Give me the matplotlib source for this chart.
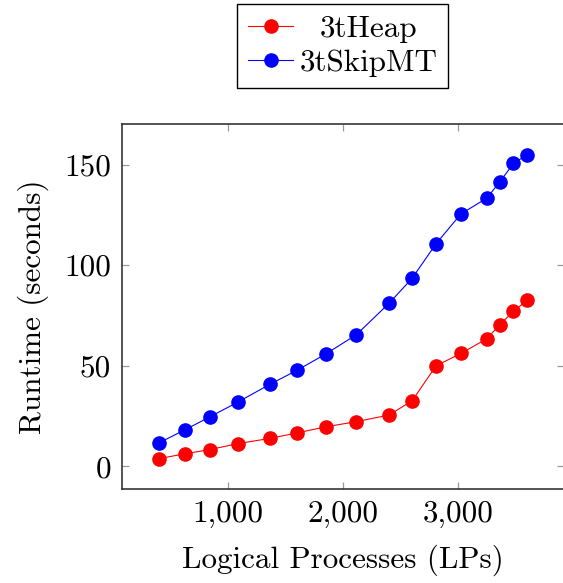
import matplotlib
matplotlib.use("Agg")
import matplotlib.pyplot as plt
from matplotlib.ticker import FuncFormatter
from matplotlib.transforms import Affine2D

# runtime vs number of logical processes
lps = [400, 625, 841, 1089, 1369, 1600, 1849, 2116, 2401, 2601, 2809, 3025, 3249, 3364, 3481, 3600]
heap = [3.8, 6.2, 8.3, 11.3, 13.9, 16.6, 19.6, 22.2, 25.5, 32.6, 50.0, 56.1, 63.4, 70.5, 77.0, 82.6]
skipmt = [11.6, 18.1, 24.5, 32.0, 40.9, 47.7, 55.8, 65.4, 81.1, 93.5, 110.7, 125.5, 133.3, 141.5, 150.6, 154.9]

xticks = [1000, 2000, 3000]
yticks = [0, 50, 100, 150]

plt.rcParams['font.family'] = ['cmr10', 'DejaVu Serif']
plt.rcParams['font.size'] = 22.4
plt.rcParams['axes.formatter.use_mathtext'] = True

fig = plt.figure(figsize=(5.63, 5.83), dpi=100)
ax = fig.add_axes([0.2167, 0.1612, 0.785, 0.6261])

ax.plot(lps, heap, color='#ff0000', marker='o', ms=9.5, lw=0.8, label='3tHeap')
ax.plot(lps, skipmt, color='#0000ff', marker='o', ms=9.5, lw=0.8, label='3tSkipMT')

ax.set_xlim(80, 3920)
ax.set_ylim(-11.3, 170.2)
ax.set_xticks(xticks)
ax.set_yticks(yticks)
ax.xaxis.set_major_formatter(FuncFormatter(lambda v, p: "{:,}".format(int(v))))
ax.yaxis.set_major_formatter(FuncFormatter(lambda v, p: "%d" % v))
ax.tick_params(direction='in', length=5, width=0.9, color='0.6',
               top=True, right=True, pad=8)
for s in ax.spines.values():
	s.set_linewidth(1.1)
	s.set_color('0.15')

ax.set_xlabel("Logical Processes (LPs)", labelpad=12)
ax.set_ylabel("Runtime (seconds)", labelpad=11)

leg = ax.legend(loc='lower center', bbox_to_anchor=(0.5, 1.099), fancybox=False,
                edgecolor='black', framealpha=1, handlelength=1.45, handletextpad=0.2,
                borderpad=0.35, labelspacing=0.2, borderaxespad=0)
leg.get_frame().set_linewidth(1.0)

# centre the legend texts like pgfplots does
fig.canvas.draw()
rend = fig.canvas.get_renderer()
texts = leg.get_texts()
widths = [t.get_window_extent(rend).width for t in texts]
for t, w in zip(texts, widths):
	t.set_transform(t.get_transform() + Affine2D().translate((max(widths) - w) / 2., 0))

fig.savefig("out.png", dpi=100)
